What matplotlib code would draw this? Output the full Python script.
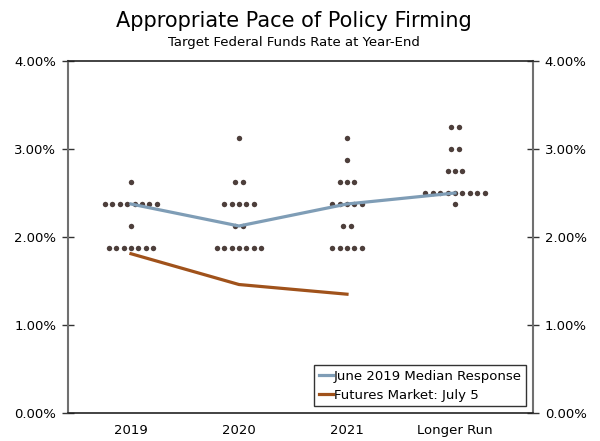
import numpy as np
import matplotlib.pyplot as plt

# categories and dot-plot data (rate level -> number of participants)
categories = ['2019', '2020', '2021', 'Longer Run']
dots_2019 = {2.625: 1, 2.375: 8, 2.125: 1, 1.875: 7}
dots_2020 = {3.125: 1, 2.625: 2, 2.375: 5, 2.125: 2, 1.875: 7}
dots_2021 = {3.125: 1, 2.875: 1, 2.625: 3, 2.375: 5, 2.125: 2, 1.875: 5}
dots_lr = {3.25: 2, 3.0: 2, 2.75: 3, 2.5: 9, 2.375: 1}
all_dots = [dots_2019, dots_2020, dots_2021, dots_lr]

median = [2.375, 2.125, 2.375, 2.5]
futures = [1.81, 1.46, 1.35]

yticks = [0, 1, 2, 3, 4]

fig = plt.figure(figsize=(6, 4.41), dpi=100)
ax = fig.add_axes([68 / 600, 28 / 441, 465 / 600, 352 / 441])

# dots
step = 0.0685
for i, d in enumerate(all_dots):
    for level, n in d.items():
        xs = i + (np.arange(n) - (n - 1) / 2) * step
        ax.plot(xs, [level] * n, 'o', color='#4d3f3b', markersize=3.9,
                markeredgewidth=0, zorder=2)

x = np.arange(len(categories))
ax.plot(x, median, color='#7f9db6', lw=2.3, zorder=3,
        label='June 2019 Median Response')
ax.plot(x[:len(futures)], futures, color='#a0521b', lw=2.3, zorder=3,
        label='Futures Market: July 5')

ax.set_xlim(-0.583, 3.722)
ax.set_ylim(0, 4)
ax.set_xticks(x)
ax.set_xticklabels(categories, fontsize=9.5)
ax.set_yticks(yticks)
ax.set_yticklabels(['%.2f%%' % v for v in yticks], fontsize=9.5)
ax.tick_params(axis='x', length=0, pad=8)
ax.tick_params(axis='y', direction='inout', length=9, width=1, color='#333333',
               right=True, labelright=True, pad=4)

for s in ['left', 'right']:
    ax.spines[s].set_color('#707070')
    ax.spines[s].set_linewidth(1.5)
for s in ['top', 'bottom']:
    ax.spines[s].set_color('#222222')
    ax.spines[s].set_linewidth(1.2)

leg = ax.legend(loc='lower right', fontsize=9.5, frameon=True, fancybox=False,
                handlelength=1.1, handletextpad=0.05, borderpad=0.35,
                labelspacing=0.45, borderaxespad=0.5)
leg.get_frame().set_edgecolor('black')
leg.get_frame().set_linewidth(1)

fig.text(0.49, 0.952, 'Appropriate Pace of Policy Firming', ha='center',
         va='center', fontsize=15)
fig.text(0.49, 0.903, 'Target Federal Funds Rate at Year-End', ha='center',
         va='center', fontsize=9.5)

fig.savefig('out.png', dpi=100)
